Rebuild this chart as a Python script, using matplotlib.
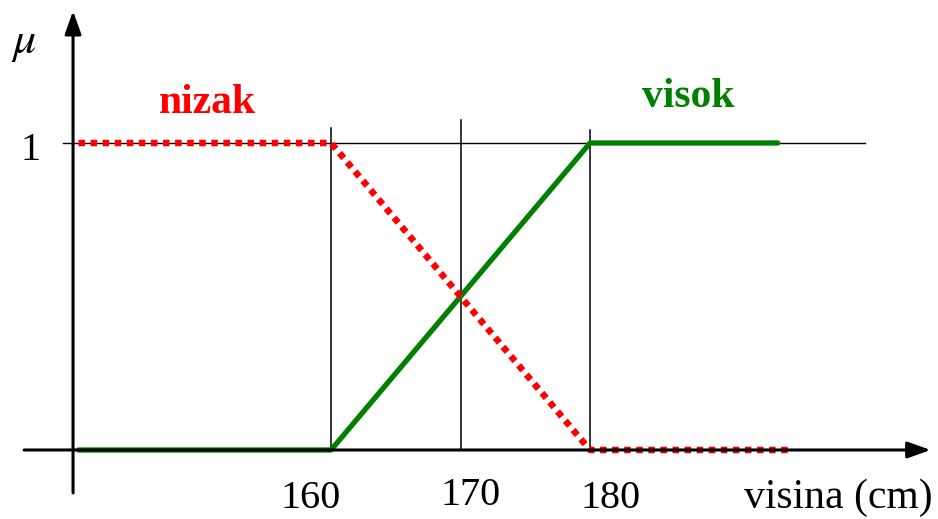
import matplotlib.pyplot as plt

# membership functions (height in cm -> mu)
heights = [140.5, 160, 180, 195.3]
nizak_mu = [1, 1, 0, 0]
visok_x = [140.5, 160, 180, 194.5]
visok_mu = [0, 0, 1, 1]
tick_values = [160, 170, 180]
tick_labels = ['160', '170', '180']
guide_tops = [1.049, 1.075, 1.042]

plt.rcParams['font.family'] = ['Liberation Serif', 'DejaVu Serif']
plt.rcParams['mathtext.fontset'] = 'stix'

fig = plt.figure(figsize=(9.38, 5.19), dpi=100)
ax = fig.add_axes([0, 0, 1, 1])
ax.set_xlim(134.44, 206.87)
ax.set_ylim(-0.2248, 1.4658)
ax.axis('off')

# axes with arrows
ax.annotate('', xy=(206.3, 0), xytext=(136.3, 0),
            arrowprops=dict(arrowstyle='-|>,head_length=1.4,head_width=0.5',
                            lw=2.2, color='black', shrinkA=0, shrinkB=0))
ax.annotate('', xy=(140.08, 1.43), xytext=(140.08, -0.14),
            arrowprops=dict(arrowstyle='-|>,head_length=1.4,head_width=0.5',
                            lw=2.2, color='black', shrinkA=0, shrinkB=0))

# guide lines
ax.plot([139.3, 201.2], [1, 1], color='black', lw=1)
for v, top in zip(tick_values, guide_tops):
    ax.plot([v, v], [0, top], color='black', lw=1.1)

ax.plot(visok_x, visok_mu, color='#008000', lw=3.8, solid_capstyle='round')
ax.plot(heights, nizak_mu, color='red', lw=4.7, linestyle=(0, (1, 0.85)),
        dash_capstyle='butt')

# labels (slightly offset from the guide lines, like the original)
label_x = [158.46, 170.8, 181.6]
label_y = [-0.19, -0.18, -0.19]
for x, y, t in zip(label_x, label_y, tick_labels):
    ax.text(x, y, t, fontsize=29, ha='center', va='baseline')
ax.text(199.2, -0.19, 'visina (cm)', fontsize=30, ha='center', va='baseline')
ax.text(136.83, 0.945, '1', fontsize=29, ha='center', va='baseline')
ax.text(135.3, 1.293, r'$\mu$', fontsize=33, ha='left', va='baseline')

ax.text(150.5, 1.13, 'nizak', fontsize=30, fontweight='bold', color='red',
        ha='center', va='center')
ax.text(187.6, 1.15, 'visok', fontsize=30, fontweight='bold', color='#008000',
        ha='center', va='center')

fig.savefig('out.png', dpi=100)
